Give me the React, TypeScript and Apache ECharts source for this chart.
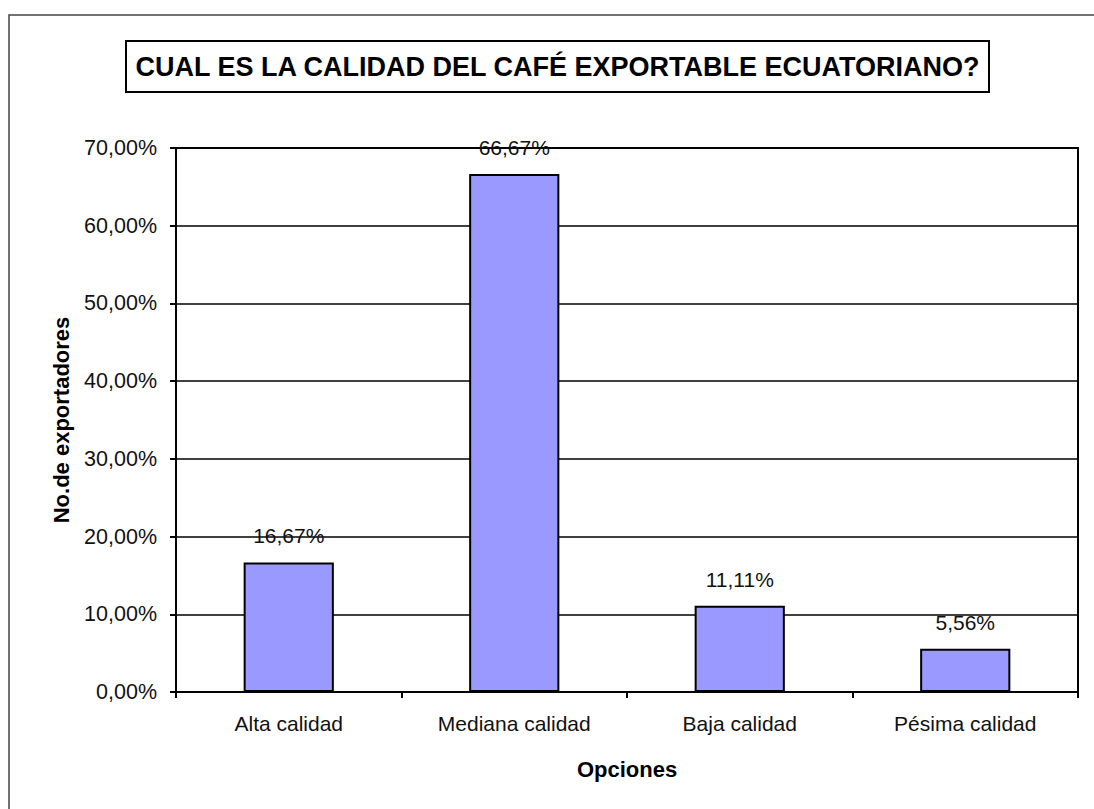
import React, { useEffect, useRef } from "react";
import * as echarts from "echarts";

const titleText = "CUAL ES LA CALIDAD DEL CAFÉ EXPORTABLE ECUATORIANO?";
const categories = ["Alta calidad", "Mediana calidad", "Baja calidad", "Pésima calidad"];
const values = [16.67, 66.67, 11.11, 5.56];
const yTicks = { min: 0, max: 70, interval: 10 };
const yAxisTitle = "No.de exportadores";
const xAxisTitle = "Opciones";

const FONT = "Arial, 'Liberation Sans', sans-serif";
const fmt = (v: number) => v.toFixed(2).replace(".", ",") + "%";

export default function App() {
  const ref = useRef<HTMLDivElement>(null);
  useEffect(() => {
    document.body.style.margin = "0";
    if (!ref.current) return;
    const chart = echarts.init(ref.current, undefined, { renderer: "svg" });
    chart.setOption({
      animation: false,
      backgroundColor: "#ffffff",
      graphic: [
        {
          type: "rect",
          shape: { x: 9, y: 15, width: 1100, height: 820 },
          style: { fill: "none", stroke: "#444", lineWidth: 1.5 },
          silent: true,
        },
        {
          type: "rect",
          shape: { x: 126, y: 41, width: 863, height: 51 },
          style: { fill: "#fff", stroke: "#000", lineWidth: 2 },
          silent: true,
        },
        {
          type: "text",
          x: 557.5,
          y: 67,
          style: {
            text: titleText,
            font: `bold 27px ${FONT}`,
            fill: "#000",
            align: "center",
            verticalAlign: "middle",
          },
          silent: true,
        },
      ],
      grid: {
        left: 176,
        top: 148,
        right: 16,
        bottom: 117,
        show: true,
        borderColor: "#000",
        borderWidth: 2,
        backgroundColor: "transparent",
      },
      xAxis: {
        type: "category",
        data: categories,
        name: xAxisTitle,
        nameLocation: "middle",
        nameGap: 66,
        nameTextStyle: { fontFamily: FONT, fontWeight: "bold", fontSize: 22, color: "#000" },
        axisLine: { show: true, lineStyle: { color: "#000", width: 2 } },
        axisTick: { show: true, length: 6, lineStyle: { color: "#000", width: 2 } },
        axisLabel: { fontFamily: FONT, fontSize: 21, color: "#111", margin: 21 },
        splitLine: { show: false },
      },
      yAxis: {
        type: "value",
        min: yTicks.min,
        max: yTicks.max,
        interval: yTicks.interval,
        name: yAxisTitle,
        nameLocation: "middle",
        nameGap: 104,
        nameRotate: 90,
        nameTextStyle: { fontFamily: FONT, fontWeight: "bold", fontSize: 22, color: "#000" },
        axisLine: { show: true, lineStyle: { color: "#000", width: 2 } },
        axisTick: { show: true, length: 6, lineStyle: { color: "#000", width: 2 } },
        axisLabel: { fontFamily: FONT, fontSize: 21.5, color: "#111", margin: 19, formatter: (v: number) => fmt(v) },
        splitLine: { show: true, lineStyle: { color: "#000", width: 1.5 } },
      },
      series: [
        {
          type: "bar",
          data: values,
          barWidth: "40%",
          itemStyle: { color: "#9999FF", borderColor: "#000", borderWidth: 2 },
          label: {
            show: true,
            position: "top",
            distance: 16,
            fontFamily: FONT,
            fontSize: 21,
            color: "#111",
            formatter: (p: any) => fmt(p.value),
          },
        },
      ],
    });
    return () => chart.dispose();
  }, []);
  return <div ref={ref} style={{ width: 1094, height: 809 }} />;
}
